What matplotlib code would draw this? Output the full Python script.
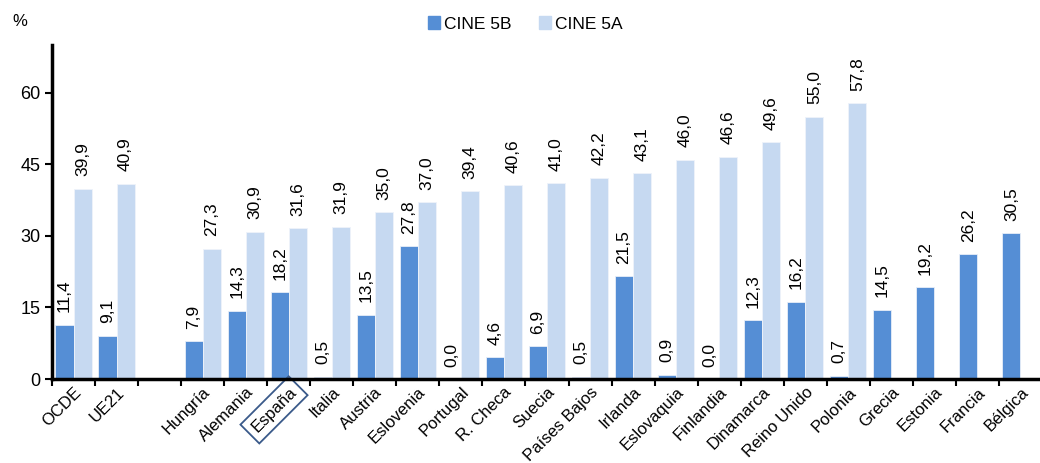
import matplotlib.pyplot as plt
import numpy as np

plt.rcParams['font.family'] = ['Liberation Sans', 'DejaVu Sans']

# datos (None = sin dato / hueco)
paises = ['OCDE', 'UE21', '', 'Hungría', 'Alemania', 'España', 'Italia', 'Austria',
          'Eslovenia', 'Portugal', 'R. Checa', 'Suecia', 'Países Bajos', 'Irlanda',
          'Eslovaquia', 'Finlandia', 'Dinamarca', 'Reino Unido', 'Polonia', 'Grecia',
          'Estonia', 'Francia', 'Bélgica']
cine5b = [11.4, 9.1, None, 7.9, 14.3, 18.2, 0.5, 13.5, 27.8, 0.0, 4.6, 6.9, 0.5,
          21.5, 0.9, 0.0, 12.3, 16.2, 0.7, 14.5, 19.2, 26.2, 30.5]
cine5a = [39.9, 40.9, None, 27.3, 30.9, 31.6, 31.9, 35.0, 37.0, 39.4, 40.6, 41.0, 42.2,
          43.1, 46.0, 46.6, 49.6, 55.0, 57.8, None, None, None, None]

col_b = '#558ED5'
col_a = '#C6D9F1'

fig = plt.figure(figsize=(10.4, 4.63), dpi=100)
ax = fig.add_axes([52 / 1040, 1 - 379 / 463, 990 / 1040, 334 / 463])

x = np.arange(len(paises))
w = 0.42
off = 2.6
for i in x:
    b, a = cine5b[i], cine5a[i]
    if b is not None:
        ax.bar(i - w / 2, b, w, color=col_b, edgecolor='#E8EEF8', linewidth=0.6)
        ax.text(i - w / 2, b + off, '{:.1f}'.format(b).replace('.', ','), rotation=90,
                ha='center', va='bottom', fontsize=12.5)
    if a is not None:
        ax.bar(i + w / 2, a, w, color=col_a, edgecolor='#EEF3FA', linewidth=0.6)
        ax.text(i + w / 2, a + off, '{:.1f}'.format(a).replace('.', ','), rotation=90,
                ha='center', va='bottom', fontsize=12.5)

ax.set_xlim(-0.5, len(paises) - 0.5)
ax.set_ylim(0, 70)
ax.set_yticks([0, 15, 30, 45, 60])
ax.tick_params(axis='y', labelsize=13, length=5, width=1.5, direction='out')

# marcas entre categorias, etiquetas centradas
ax.set_xticks(np.arange(-0.5, len(paises) - 0.5, 1))
ax.set_xticklabels([])
ax.set_xticks(x, minor=True)
ax.set_xticklabels(paises, minor=True, rotation=45, ha='right', rotation_mode='anchor',
                   fontsize=12)
ax.tick_params(axis='x', which='minor', length=0, pad=4)
ax.tick_params(axis='x', which='major', length=5, width=1.5, direction='out')

for lbl in ax.get_xticklabels(minor=True):
    if lbl.get_text() == 'España':
        lbl.set_bbox(dict(boxstyle='square,pad=0.35', fc='none', ec='#3A5A8A', lw=1.3))

for s in ['top', 'right']:
    ax.spines[s].set_visible(False)
ax.spines['left'].set_linewidth(2.5)
ax.spines['bottom'].set_linewidth(2.5)

fig.text(12 / 1040, 1 - 22 / 463, '%', fontsize=12, va='center')

h1 = plt.Rectangle((0, 0), 1, 1, color=col_b)
h2 = plt.Rectangle((0, 0), 1, 1, color=col_a)
fig.legend([h1, h2], ['CINE 5B', 'CINE 5A'], loc='center', bbox_to_anchor=(0.505, 1 - 24 / 463),
           ncol=2, frameon=False, fontsize=12.5, handlelength=0.7, handleheight=0.8,
           handletextpad=0.2, columnspacing=1.6)

fig.savefig('out.png', dpi=100)
